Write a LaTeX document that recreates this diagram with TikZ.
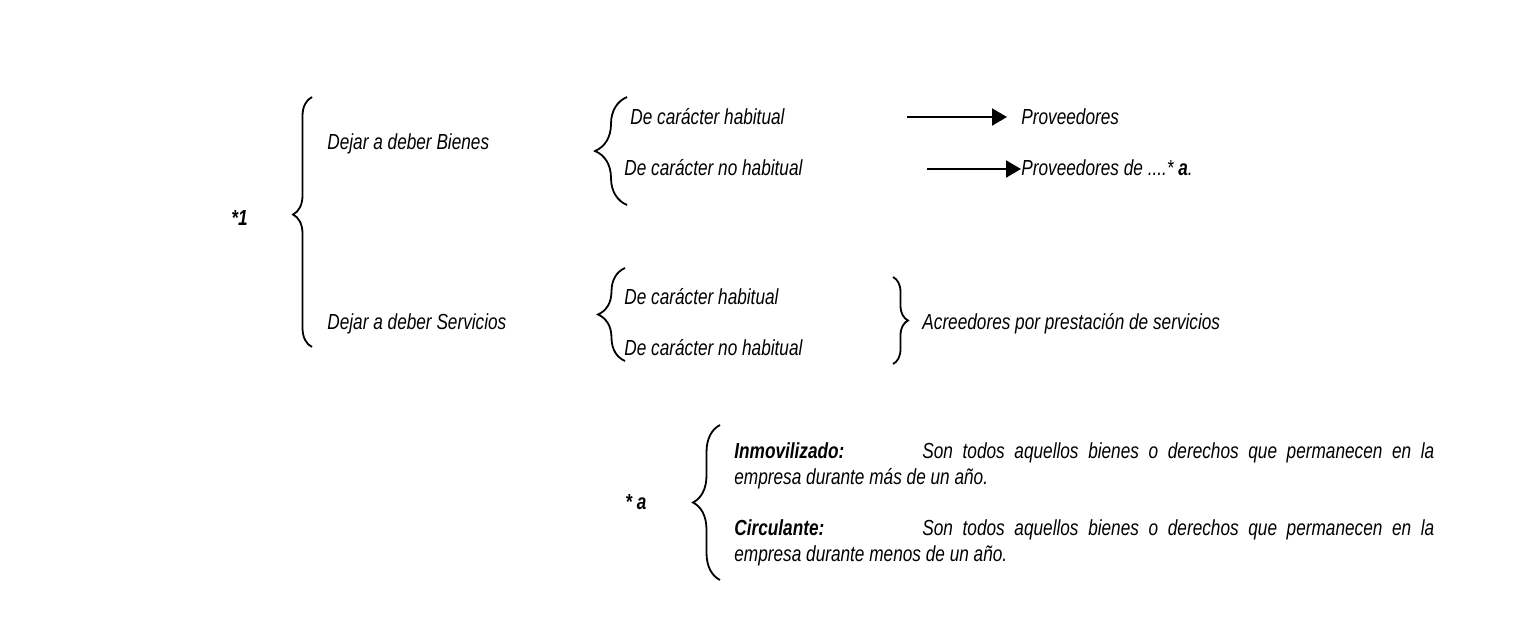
\documentclass[tikz,border=0pt]{standalone}
\usepackage{fontspec}
\setmainfont[FakeStretch=0.79]{Liberation Sans}
\usetikzlibrary{arrows.meta, positioning, decorations.pathreplacing}
\tikzset{
  lbl/.style    = {anchor=base west, inner sep=0pt,
                   font=\fontsize{10.9}{13}\selectfont\itshape},
  blbl/.style   = {lbl, font=\fontsize{10.9}{13}\selectfont\bfseries\itshape},
  brace/.style  = {decorate, decoration={brace, amplitude=#1}, line width=0.9pt},
  brace/.default = 8pt,
  arrow/.style  = {-{Triangle[length=7.5pt, width=8.5pt]}, line width=1pt},
}
\begin{document}
\begin{tikzpicture}[x=0.5pt, y=-0.5pt]
  \useasboundingbox (0,0) rectangle (1535,638);
  % braces: x / from / to / amplitude / aspect
  \foreach \x/\ya/\yb/\amp/\asp in {312/347/97/9.5pt/0.53, 627/205/97/16pt/0.5,
                                    625/361/268/13.5pt/0.5, 893/277/364/7.5pt/0.5,
                                    720/580/425/13.5pt/0.5}
    \draw[brace=\amp, decoration={aspect=\asp}] (\x,\ya) -- (\x,\yb);
  % first level
  \node[blbl] (one) at (231,225) {*1};
  \node[lbl] (bienes) at (327,149) {Dejar a deber Bienes};
  \node[lbl] (servicios) at (327,329) {Dejar a deber Servicios};
  % bienes
  \node[lbl] (bhab) at (630,124) {De carácter habitual};
  \node[lbl] (bnohab) at (624,175) {De carácter no habitual};
  \node[lbl] (prov) at (1021,124) {Proveedores};
  \node[lbl] (provde) at (1021,175) {Proveedores de ....* \textbf{a}.};
  \coordinate (a1) at (907,117);
  \coordinate (a2) at (927,169);
  \draw[arrow, shorten >=7pt] (a1) -- (a1 -| prov.west);
  \draw[arrow] (a2) -- (a2 -| provde.west);
  % servicios
  \node[lbl] (shab) at (624,304) {De carácter habitual};
  \node[lbl] (snohab) at (624,355) {De carácter no habitual};
  \node[lbl] (acre) at (922,329) {Acreedores por prestación de servicios};
  % nota *a
  \node[blbl] (nota) at (625,509) {* a};
  \node[blbl] (inmo) at (734,458) {Inmovilizado:};
  \node[lbl] (inmo1) at (922,458)
    {\makebox[256pt][s]{Son todos aquellos bienes o derechos que permanecen en la}};
  \node[lbl] (inmo2) at (734,484) {empresa durante más de un año.};
  \node[blbl] (circ) at (734,535) {Circulante:};
  \node[lbl] (circ1) at (922,535)
    {\makebox[256pt][s]{Son todos aquellos bienes o derechos que permanecen en la}};
  \node[lbl] (circ2) at (734,561) {empresa durante menos de un año.};
\end{tikzpicture}
\end{document}
